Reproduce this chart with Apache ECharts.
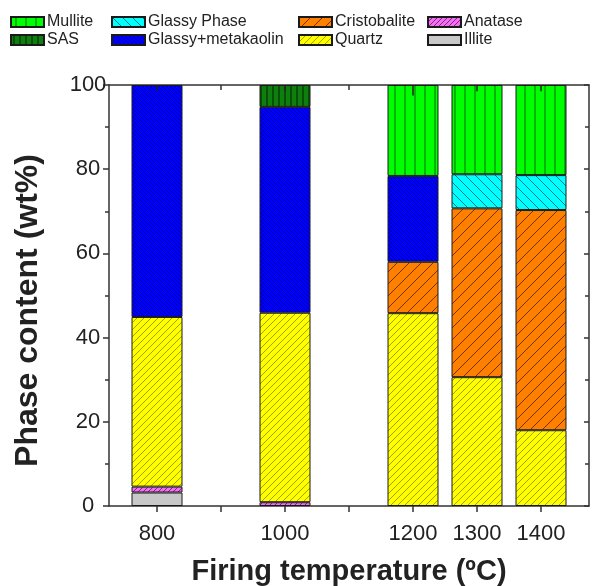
<!DOCTYPE html>
<html>
<head>
<meta charset="utf-8">
<script src="https://cdn.jsdelivr.net/npm/echarts@6/dist/echarts.min.js"></script>
<style>
  html, body { margin: 0; padding: 0; background: #fff; }
  #chart { width: 608px; height: 586px; }
</style>
</head>
<body>
<div id="chart"></div>
<script>
// Firing temperatures (°C) and phase contents (wt%) at each temperature
const temperatures = [800, 1000, 1200, 1300, 1400];
const illite           = [3.2, 0, 0, 0, 0];
const anatase          = [1.4, 0.9, 0, 0, 0];
const quartz           = [40.3, 45.0, 45.8, 30.6, 18.0];
const cristobalite     = [0, 0, 12.2, 40.1, 52.3];
const glassyMetakaolin = [55.1, 48.9, 20.4, 0, 0];
const glassyPhase      = [0, 0, 0, 8.1, 8.3];
const sas              = [0, 5.2, 0, 0, 0];
const mullite          = [0, 0, 21.6, 21.2, 21.4];
// uncertainty drawn at the top of each stacked column
const topErrors        = [1.5, 1.5, 2.5, 1.5, 1.5];

const xTickValues  = [800, 900, 1000, 1100, 1200, 1300, 1400];
const xLabelValues = [800, 1000, 1200, 1300, 1400];

// Hatched fill patterns
function hatch(bg, line, kind, step, width) {
  const c = document.createElement('canvas');
  c.width = step; c.height = step;
  const g = c.getContext('2d');
  g.fillStyle = bg;
  g.fillRect(0, 0, step, step);
  if (kind) {
    g.strokeStyle = line;
    g.lineWidth = width;
    g.beginPath();
    if (kind === 'v') {
      g.moveTo(step / 2, 0); g.lineTo(step / 2, step);
    } else if (kind === '/') {
      g.moveTo(0, step); g.lineTo(step, 0);
      g.moveTo(-step / 2, step / 2); g.lineTo(step / 2, -step / 2);
      g.moveTo(step / 2, step * 1.5); g.lineTo(step * 1.5, step / 2);
    } else if (kind === '\\') {
      g.moveTo(0, 0); g.lineTo(step, step);
      g.moveTo(-step / 2, step / 2); g.lineTo(step / 2, step * 1.5);
      g.moveTo(step / 2, -step / 2); g.lineTo(step * 1.5, step / 2);
    }
    g.stroke();
  }
  return { image: c, repeat: 'repeat' };
}

const fills = {
  'Illite': hatch('#c8c8c8', null, null, 4, 1),
  'Anatase': hatch('#f070f0', 'rgba(90,0,90,0.7)', '/', 5, 1),
  'Quartz': hatch('#ffff00', 'rgba(60,60,0,0.6)', '/', 7, 0.8),
  'Cristobalite': hatch('#ff8000', 'rgba(70,25,0,0.75)', '/', 12, 1),
  'Glassy+metakaolin': hatch('#0000ff', 'rgba(0,0,60,0.55)', '\\', 4, 0.8),
  'Glassy Phase': hatch('#00ffff', 'rgba(0,70,70,0.7)', '\\', 10, 1),
  'SAS': hatch('#0e7e0e', 'rgba(0,20,0,0.85)', 'v', 6, 1),
  'Mullite': hatch('#00ff00', 'rgba(0,80,0,0.85)', 'v', 10, 1)
};

const layers = [
  ['Illite', illite],
  ['Anatase', anatase],
  ['Quartz', quartz],
  ['Cristobalite', cristobalite],
  ['Glassy+metakaolin', glassyMetakaolin],
  ['Glassy Phase', glassyPhase],
  ['SAS', sas],
  ['Mullite', mullite]
];

// The content is stored first in each item so that it is the stacked dimension.
const barSeries = layers.map(([name, values]) => ({
  name: name,
  type: 'bar',
  stack: 'phases',
  barWidth: 51,
  xAxisIndex: 0,
  yAxisIndex: 0,
  encode: { x: 1, y: 0 },
  itemStyle: { color: fills[name], borderColor: '#1a1a1a', borderWidth: 1 },
  data: temperatures.map((t, i) => values[i] > 0
    ? { value: [values[i], t] }
    : { value: [0, t], itemStyle: { borderWidth: 0, opacity: 0 } })
}));

// column totals, for placing the error marks
const totals = temperatures.map((t, i) =>
  layers.reduce((s, [, v]) => s + v[i], 0));

const errorSeries = {
  type: 'custom',
  xAxisIndex: 0,
  yAxisIndex: 0,
  silent: true,
  z: 10,
  data: temperatures.map((t, i) => [t, totals[i], topErrors[i]]),
  renderItem: function (params, api) {
    const x = api.value(0);
    const p1 = api.coord([x, api.value(1)]);
    const p2 = api.coord([x, api.value(1) - api.value(2)]);
    return {
      type: 'line',
      shape: { x1: p1[0], y1: p1[1], x2: p2[0], y2: p2[1] },
      style: { stroke: '#222', lineWidth: 1.5 }
    };
  }
};

const axisLineStyle = { color: '#333', width: 1.5 };
const legendBase = {
  orient: 'vertical',
  top: 14,
  padding: 0,
  itemWidth: 33,
  itemHeight: 10,
  itemGap: 2,
  icon: 'rect',
  selectedMode: false,
  textStyle: { fontSize: 16, color: '#222', padding: [0, 0, 0, -2] }
};

const chart = echarts.init(document.getElementById('chart'), null, { renderer: 'canvas' });
chart.setOption({
  animation: false,
  backgroundColor: '#fff',
  textStyle: { fontFamily: 'Liberation Sans, Arial, sans-serif' },
  grid: { left: 109, right: 19, top: 85, bottom: 80, containLabel: false, outerBoundsMode: 'none' },
  legend: [
    Object.assign({}, legendBase, { left: 10, data: ['Mullite', 'SAS'] }),
    Object.assign({}, legendBase, { left: 111, data: ['Glassy Phase', 'Glassy+metakaolin'] }),
    Object.assign({}, legendBase, { left: 298, data: ['Cristobalite', 'Quartz'] }),
    Object.assign({}, legendBase, { left: 427, data: ['Anatase', 'Illite'] })
  ],
  xAxis: [
    {
      type: 'value', position: 'bottom', min: 725, max: 1475,
      axisLine: { onZero: false, lineStyle: axisLineStyle },
      axisTick: { customValues: xTickValues, length: 6, lineStyle: axisLineStyle },
      axisLabel: { customValues: xLabelValues, fontSize: 22, color: '#222', margin: 17,
                   formatter: v => String(v) },
      splitLine: { show: false },
      name: 'Firing temperature (ºC)',
      nameLocation: 'middle',
      nameGap: 51,
      nameTextStyle: { fontSize: 29, fontWeight: 'bold', color: '#222' }
    },
    {
      type: 'value', position: 'top', min: 725, max: 1475,
      axisLine: { onZero: false, lineStyle: axisLineStyle },
      axisTick: { customValues: xTickValues, inside: true, length: 5, lineStyle: axisLineStyle },
      axisLabel: { show: false },
      splitLine: { show: false }
    }
  ],
  yAxis: [
    {
      type: 'value', position: 'left', min: 0, max: 100, interval: 20,
      axisLine: { show: true, onZero: false, lineStyle: axisLineStyle },
      axisTick: { show: true, length: 6, lineStyle: axisLineStyle },
      minorTick: { show: true, splitNumber: 2, length: 4, lineStyle: axisLineStyle },
      axisLabel: { fontSize: 22, color: '#222', margin: 21, align: 'center' },
      splitLine: { show: false },
      name: 'Phase content (wt%)',
      nameLocation: 'middle',
      nameGap: 65,
      nameTextStyle: { fontSize: 32, fontWeight: 'bold', color: '#222', padding: [0, 30, 0, 0] }
    },
    {
      type: 'value', position: 'right', min: 0, max: 100, interval: 20,
      axisLine: { show: true, onZero: false, lineStyle: axisLineStyle },
      axisTick: { show: true, inside: true, length: 5, lineStyle: axisLineStyle },
      minorTick: { show: true, splitNumber: 2, length: 4, lineStyle: axisLineStyle },
      axisLabel: { show: false },
      splitLine: { show: false }
    }
  ],
  series: barSeries.concat([errorSeries])
});
</script>
</body>
</html>
